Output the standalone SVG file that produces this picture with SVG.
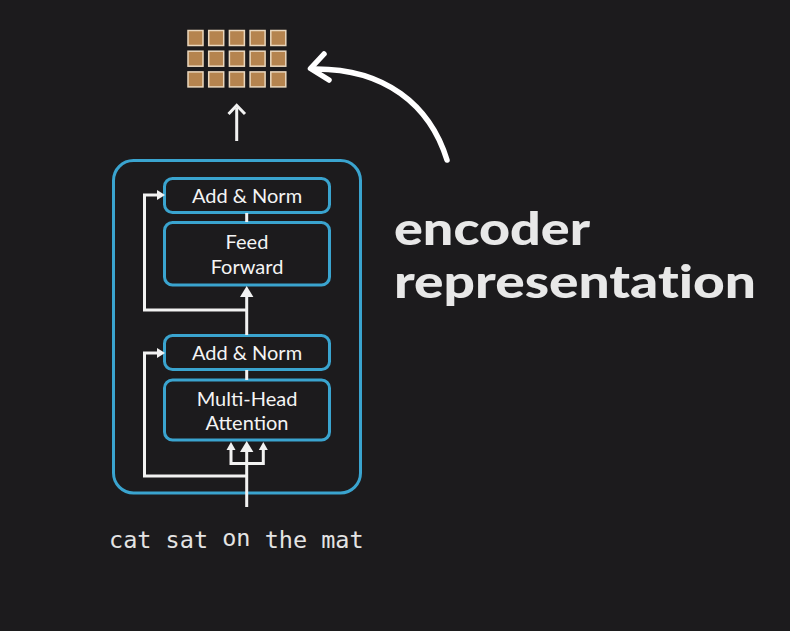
<svg xmlns="http://www.w3.org/2000/svg" width="790" height="631" viewBox="0 0 790 631">
<style>
.bg{fill:#1c1b1d}
.box{fill:#1c1b1d;stroke:#3aa4cf;stroke-width:3}
.lbl{font-family:"Lato","Open Sans",sans-serif;font-size:20px;fill:#f4f4f4;text-anchor:middle}
.ln{fill:none;stroke:#f2f2f2;stroke-width:3}
.hd{fill:#f2f2f2}
.cell{fill:#b5844f;stroke:#ead7bd;stroke-width:1.5}
.big{font-family:"Lato","Liberation Sans",sans-serif;font-weight:900;font-size:46px;fill:#e8e8e8;font-variant-ligatures:none}
.mono{font-family:"DejaVu Sans Mono","Liberation Mono",monospace;font-size:23.5px;fill:#e4e4e4}
</style>
<rect class="bg" x="0" y="0" width="790" height="631"/>

<g id="output-grid">
<rect class="cell" x="188" y="30.5" width="15" height="15"/>
<rect class="cell" x="208.7" y="30.5" width="15" height="15"/>
<rect class="cell" x="229.4" y="30.5" width="15" height="15"/>
<rect class="cell" x="250.1" y="30.5" width="15" height="15"/>
<rect class="cell" x="270.8" y="30.5" width="15" height="15"/>
<rect class="cell" x="188" y="51.2" width="15" height="15"/>
<rect class="cell" x="208.7" y="51.2" width="15" height="15"/>
<rect class="cell" x="229.4" y="51.2" width="15" height="15"/>
<rect class="cell" x="250.1" y="51.2" width="15" height="15"/>
<rect class="cell" x="270.8" y="51.2" width="15" height="15"/>
<rect class="cell" x="188" y="71.9" width="15" height="15"/>
<rect class="cell" x="208.7" y="71.9" width="15" height="15"/>
<rect class="cell" x="229.4" y="71.9" width="15" height="15"/>
<rect class="cell" x="250.1" y="71.9" width="15" height="15"/>
<rect class="cell" x="270.8" y="71.9" width="15" height="15"/>
</g>

<g id="encoder">
<rect class="box" x="113.5" y="160.5" width="247" height="332.5" rx="20"/>
</g>
<g id="add-norm-2">
<rect class="box" x="164.5" y="178.5" width="165" height="34" rx="8"/>
<text class="lbl" x="247" y="203">Add &amp; Norm</text>
</g>
<g id="feed-forward">
<rect class="box" x="164.5" y="222.5" width="165" height="62.5" rx="8"/>
<text class="lbl" x="247" y="249">Feed</text>
<text class="lbl" x="247" y="273.5">Forward</text>
</g>
<g id="add-norm-1">
<rect class="box" x="164.5" y="335.5" width="165" height="34" rx="8"/>
<text class="lbl" x="247" y="359.5">Add &amp; Norm</text>
</g>
<g id="multi-head-attention">
<rect class="box" x="164.5" y="380" width="165" height="60" rx="8"/>
<text class="lbl" x="247" y="405.5">Multi-Head</text>
<text class="lbl" x="247" y="430">Attention</text>
</g>

<g id="connectors">
<path class="ln" d="M236.7,141 V108"/>
<path class="ln" d="M228.5,114 L236.7,105.5 L245,114" stroke-linejoin="miter"/>
<path class="ln" d="M246.7,213 V222"/>
<path class="ln" d="M246.7,370 V380"/>
<path class="ln" d="M246.7,335 V295"/>
<polygon class="hd" points="246.7,286 240,297 253.4,297"/>
<path class="ln" d="M246.7,310 H144.5 V195 H158"/>
<polygon class="hd" points="165,195 157,190 157,200"/>
<path class="ln" d="M246.7,507 V451"/>
<polygon class="hd" points="246.7,441 240,452 253.4,452"/>
<path class="ln" d="M231,448 V463.5 H263.3 V448"/>
<polygon class="hd" points="231,442 226.5,450 235.5,450"/>
<polygon class="hd" points="263.3,442 258.8,450 267.8,450"/>
<path class="ln" d="M246.7,476 H144.5 V353 H158"/>
<polygon class="hd" points="165,353 157,348 157,358"/>
<path d="M447,160 C430,105 385,68 313,69" fill="none" stroke="#ffffff" stroke-width="5.5" stroke-linecap="round"/>
<path d="M324,54 L310.5,68.5 L329,80" fill="none" stroke="#ffffff" stroke-width="5.5" stroke-linecap="round" stroke-linejoin="round"/>
</g>

<g id="annotation">
<text class="big" x="394" y="245" textLength="196" lengthAdjust="spacingAndGlyphs">encoder</text>
<text class="big" x="394" y="298" textLength="362" lengthAdjust="spacingAndGlyphs">representation</text>
</g>

<g id="input-text">
<text class="mono" x="109" y="548">cat sat <tspan dy="-2">on</tspan><tspan dy="2"> the mat</tspan></text>
</g>
</svg>
